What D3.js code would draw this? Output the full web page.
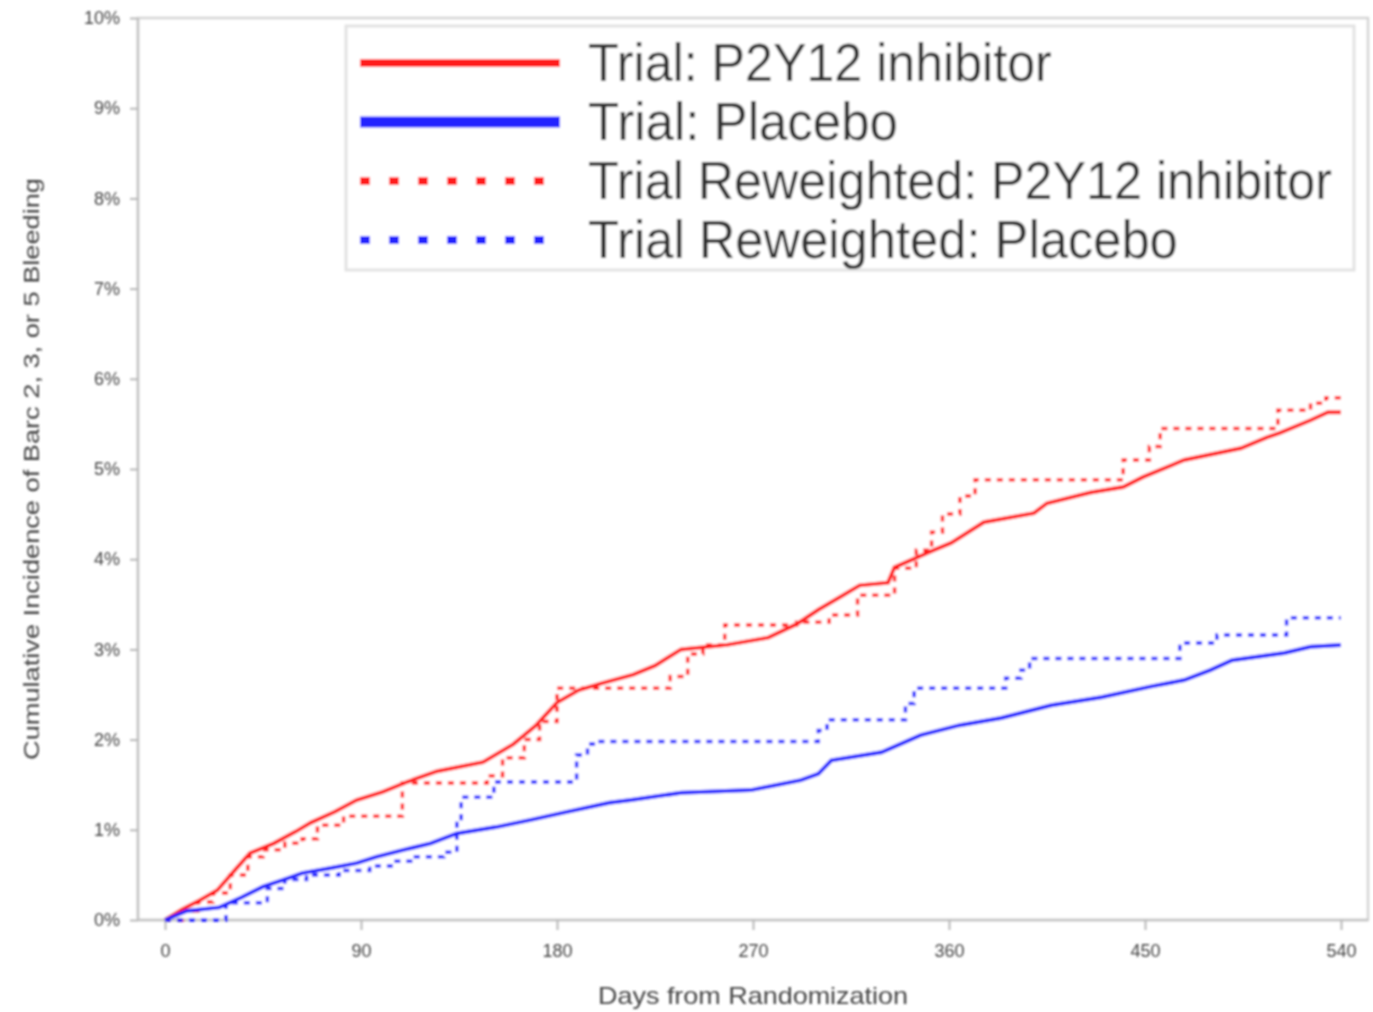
<!DOCTYPE html>
<html>
<head>
<meta charset="utf-8">
<script src="https://cdn.jsdelivr.net/npm/d3@7"></script>
<style>
  body { margin: 0; background: #fff; }
  text { font-family: "Liberation Sans", Arial, sans-serif; }
</style>
</head>
<body>
<div id="chart"></div>
<script>
var WIDTH = 1373;
var HEIGHT = 1012;

// days from randomization, cumulative incidence (%)
var trialP2Y12 = [
  [0, 0], [8, 0.12], [16, 0.22], [24, 0.33], [32, 0.55], [39, 0.74], [50, 0.85], [60, 0.98],
  [67, 1.08], [78, 1.2], [88, 1.33], [100, 1.42], [111, 1.53], [125, 1.65], [146, 1.75],
  [160, 1.95], [170, 2.15], [180, 2.41], [190, 2.55], [200, 2.62], [215, 2.72], [225, 2.82],
  [237, 3.0], [258, 3.05], [277, 3.13], [290, 3.28], [300, 3.44], [310, 3.58], [319, 3.71],
  [332, 3.74], [335, 3.91], [353, 4.1], [361, 4.18], [376, 4.41], [399, 4.51], [405, 4.62],
  [425, 4.74], [440, 4.8], [449, 4.91], [468, 5.1], [494, 5.23], [506, 5.35], [512, 5.4],
  [526, 5.54], [534, 5.63], [540, 5.63]
];
var trialPlacebo = [
  [0, 0], [10, 0.1], [25, 0.14], [35, 0.25], [45, 0.37], [55, 0.45], [63, 0.52], [75, 0.57],
  [88, 0.63], [97, 0.7], [110, 0.78], [122, 0.85], [134, 0.96], [152, 1.03], [168, 1.11],
  [183, 1.19], [204, 1.3], [214, 1.33], [237, 1.41], [269, 1.44], [292, 1.55], [300, 1.62],
  [306, 1.77], [329, 1.86], [347, 2.05], [365, 2.16], [384, 2.24], [407, 2.38], [430, 2.47],
  [453, 2.59], [468, 2.66], [480, 2.77], [490, 2.88], [514, 2.96], [526, 3.03], [540, 3.05]
];
var reweightedP2Y12 = [
  [0, 0], [8, 0.1], [15, 0.2], [22, 0.3], [30, 0.5], [38, 0.7], [45, 0.78], [55, 0.85],
  [63, 0.9], [70, 1.05], [82, 1.15], [109, 1.52], [148, 1.6], [155, 1.8], [165, 2.0],
  [172, 2.2], [180, 2.57], [232, 2.7], [240, 2.95], [247, 3.05], [257, 3.27], [290, 3.3],
  [305, 3.38], [318, 3.6], [335, 3.9], [345, 4.1], [352, 4.3], [357, 4.5], [365, 4.7],
  [372, 4.88], [440, 5.1], [452, 5.25], [457, 5.45], [511, 5.65], [526, 5.73], [533, 5.79], [540, 5.79]
];
var reweightedPlacebo = [
  [0, 0], [28, 0.19], [47, 0.35], [55, 0.45], [65, 0.5], [80, 0.55], [94, 0.6], [105, 0.65],
  [115, 0.7], [128, 0.75], [134, 1.1], [136, 1.36], [151, 1.53], [189, 1.83], [194, 1.95],
  [198, 1.98], [300, 2.1], [304, 2.22], [340, 2.4], [344, 2.57], [386, 2.68], [393, 2.77],
  [397, 2.9], [466, 3.07], [483, 3.16], [515, 3.35], [540, 3.35]
];

var xTicks = [0, 90, 180, 270, 360, 450, 540];
var yTicks = [0, 1, 2, 3, 4, 5, 6, 7, 8, 9, 10];

var seriesNames = [
  'Trial: P2Y12 inhibitor',
  'Trial: Placebo',
  'Trial Reweighted: P2Y12 inhibitor',
  'Trial Reweighted: Placebo'
];
var seriesData = [trialP2Y12, trialPlacebo, reweightedP2Y12, reweightedPlacebo];

var styles = [
  { color: '#ff1a1a', width: 4, dash: null, legendWidth: 8 },
  { color: '#2020ff', width: 4, dash: null, legendWidth: 11 },
  { color: '#ff1a1a', width: 3.5, dash: '6,6', legendWidth: 8 },
  { color: '#2020ff', width: 3.5, dash: '6,6', legendWidth: 8 }
];

var plot = { left: 138, top: 18, right: 1368, bottom: 920 };

var x = d3.scaleLinear().domain([0, 540]).range([165, 1341]);
var y = d3.scaleLinear().domain([0, 10]).range([plot.bottom, plot.top]);

var $svg = d3.select('#chart').append('svg')
  .attr('width', WIDTH)
  .attr('height', HEIGHT);

$svg.append('defs').append('filter')
  .attr('id', 'soft')
  .append('feGaussianBlur')
  .attr('stdDeviation', 1);

var $g = $svg.append('g').attr('filter', 'url(#soft)');

// squeeze a text horizontally so it spans the given width
function squeeze ($text, x0, y0, width) {
  var natural = $text.node().getComputedTextLength();
  $text.attr('transform', 'translate(' + x0 + ',' + y0 + ') scale(' + (width / natural) + ',1)');
}

// plot frame
$g.append('rect')
  .attr('x', plot.left)
  .attr('y', plot.top)
  .attr('width', plot.right - plot.left)
  .attr('height', plot.bottom - plot.top)
  .attr('fill', '#fff')
  .attr('stroke', '#d4d4d4')
  .attr('stroke-width', 2.5);

// axes
var yAxis = d3.axisLeft(y)
  .tickValues(yTicks)
  .tickSize(8)
  .tickPadding(10)
  .tickFormat(function (d) { return d + '%'; });

var xAxis = d3.axisBottom(x)
  .tickValues(xTicks)
  .tickSize(10)
  .tickPadding(14);

var $yAxis = $g.append('g')
  .attr('transform', 'translate(' + plot.left + ',0)')
  .call(yAxis);
var $xAxis = $g.append('g')
  .attr('transform', 'translate(0,' + plot.bottom + ')')
  .call(xAxis);

[$yAxis, $xAxis].forEach(function ($a) {
  $a.select('.domain').attr('stroke', '#c4c4c4').attr('stroke-width', 2.5);
  $a.selectAll('.tick line').attr('stroke', '#b8b8b8').attr('stroke-width', 2);
  $a.selectAll('.tick text')
    .attr('fill', '#444')
    .style('font-family', '"Liberation Sans", Arial, sans-serif')
    .style('font-size', '18px');
});
$xAxis.select('.domain').attr('d', 'M' + plot.left + ',0H' + plot.right);
$yAxis.select('.domain').attr('d', 'M0,' + plot.bottom + 'V' + plot.top);

// axis titles
$g.append('text')
  .attr('x', 598)
  .attr('y', 1004)
  .attr('fill', '#444')
  .attr('textLength', 310)
  .attr('lengthAdjust', 'spacingAndGlyphs')
  .style('font-size', '24px')
  .text('Days from Randomization');

$g.append('text')
  .attr('transform', 'translate(39,760) rotate(-90)')
  .attr('fill', '#444')
  .attr('textLength', 582)
  .attr('lengthAdjust', 'spacingAndGlyphs')
  .style('font-size', '22px')
  .text('Cumulative Incidence of Barc 2, 3, or 5 Bleeding');

// curves
var line = d3.line()
  .x(function (d) { return x(d[0]); })
  .y(function (d) { return y(d[1]); });

var $lines = $g.append('g');
[0, 2, 1, 3].forEach(function (i) {
  var s = styles[i];
  $lines.append('path')
    .datum(seriesData[i])
    .attr('d', line.curve(s.dash ? d3.curveStepAfter : d3.curveLinear))
    .attr('fill', 'none')
    .attr('stroke', s.color)
    .attr('stroke-width', s.width)
    .attr('stroke-dasharray', s.dash);
});

// legend
var $legend = $g.append('g');
$legend.append('rect')
  .attr('x', 346)
  .attr('y', 26)
  .attr('width', 1008)
  .attr('height', 244)
  .attr('fill', '#fff')
  .attr('stroke', '#e2e2e2')
  .attr('stroke-width', 3);

var rowY = d3.scaleLinear().domain([0, 3]).range([63, 240]);
var textWidths = [464, 310, 744, 590];

seriesNames.forEach(function (name, i) {
  var s = styles[i];
  $legend.append('line')
    .attr('x1', 360)
    .attr('x2', 560)
    .attr('y1', rowY(i))
    .attr('y2', rowY(i))
    .attr('stroke', s.color)
    .attr('stroke-width', s.legendWidth)
    .attr('stroke-dasharray', s.dash ? '10,19' : null);
  var $t = $legend.append('text')
    .attr('fill', '#333')
    .style('font-size', '54px')
    .text(name);
  squeeze($t, 588, rowY(i) + 18, textWidths[i]);
});
</script>
</body>
</html>
